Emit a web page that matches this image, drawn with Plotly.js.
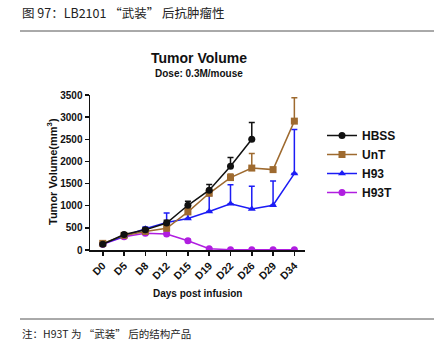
<!DOCTYPE html>
<html><head><meta charset="utf-8">
<script src="https://cdn.plot.ly/plotly-3.0.1.min.js"></script>
<style>html,body{margin:0;padding:0;background:#fff;}#chart{width:439px;height:351px;}</style>
</head><body><div id="chart"></div>
<script>
const days = ["D0","D5","D8","D12","D15","D19","D22","D26","D29","D34"];
const hbss = [130, 350, 455, 610, 1010, 1350, 1890, 2500, null, null];
const hbssErr = [30, 40, 40, 60, 90, 130, 200, 380, 0, 0];
const unt = [150, 330, 420, 490, 860, 1280, 1635, 1850, 1815, 2910];
const untErr = [30, 30, 40, 50, 70, 100, 80, 330, 50, 530];
const h93 = [140, 310, 480, 620, 710, 870, 1045, 925, 1010, 1725];
const h93Err = [30, 30, 40, 215, 190, 360, 430, 515, 550, 995];
const h93t = [130, 300, 380, 360, 210, 30, 5, 3, 3, 3];
const h93tErr = [20, 20, 30, 30, 30, 10, 0, 0, 0, 0];
const zeros = days.map(() => 0);

function tr(name, y, err, color, symbol) {
  return {
    type: 'scatter', mode: 'lines+markers', name: name, x: days, y: y,
    line: {color: color, width: 1.5},
    marker: {color: color, symbol: symbol, size: 7},
    error_y: {type: 'data', symmetric: false, array: err, arrayminus: zeros, color: color, thickness: 1.5, width: 3},
    connectgaps: false
  };
}
const data = [
  tr('H93T', h93t, h93tErr, '#b01ee0', 'circle'),
  tr('H93', h93, h93Err, '#1c1cf5', 'triangle-up'),
  tr('UnT', unt, untErr, '#9e6a2f', 'square'),
  tr('HBSS', hbss, hbssErr, '#111111', 'circle')
];
const X0 = 90, W = 215, Y0 = 250, H = 155;
const px = v => (v - X0) / W, py = v => (Y0 - v) / H;
const bold = {family: 'Liberation Sans, Arial, sans-serif', color: '#111', size: 10, weight: 'bold'};
const boldX = {family: 'Liberation Sans, Arial, sans-serif', color: '#111', size: 10.5, weight: 'bold'};
const layout = {
  width: 439, height: 351,
  margin: {l: 90, r: 134, t: 95, b: 101},
  paper_bgcolor: '#fff', plot_bgcolor: '#fff',
  showlegend: true,
  legend: {x: px(322), y: py(121), xanchor: 'left', yanchor: 'top', traceorder: 'reversed',
    font: {family: 'Liberation Sans, Arial, sans-serif', size: 12, color: '#111', weight: 'bold'},
    itemwidth: 30, tracegroupgap: 0, bgcolor: 'rgba(0,0,0,0)'},
  xaxis: {type: 'category', range: [-0.6, 9.5], showgrid: false, zeroline: false,
    showline: true, linecolor: '#111', linewidth: 1.5, ticks: 'outside', ticklen: 4, tickwidth: 1.5, tickcolor: '#111',
    tickangle: -45, tickfont: boldX, fixedrange: true},
  yaxis: {range: [0, 3500], showgrid: false, zeroline: false, dtick: 500,
    showline: true, linecolor: '#111', linewidth: 1.5, ticks: 'outside', ticklen: 4, tickwidth: 1.5, tickcolor: '#111',
    tickfont: bold, fixedrange: true},
  shapes: [
    {type: 'line', xref: 'paper', yref: 'paper', x0: px(20), x1: px(434), y0: py(31), y1: py(31), line: {color: '#555', width: 1}},
    {type: 'line', xref: 'paper', yref: 'paper', x0: px(20), x1: px(434), y0: py(319), y1: py(319), line: {color: '#555', width: 1}}
  ],
  annotations: [
    {xref: 'paper', yref: 'paper', x: px(20), y: py(12), xanchor: 'left', yanchor: 'middle', showarrow: false,
      text: '图 97：LB2101 “武装” 后抗肿瘤性', font: {family: 'Noto Sans CJK SC, sans-serif', size: 12.5, color: '#222'}},
    {xref: 'paper', yref: 'paper', x: px(20), y: py(333), xanchor: 'left', yanchor: 'middle', showarrow: false,
      text: '注：H93T 为 “武装” 后的结构产品', font: {family: 'Noto Sans CJK SC, sans-serif', size: 10.5, color: '#222'}},
    {xref: 'paper', yref: 'paper', x: px(199), y: py(58), xanchor: 'center', yanchor: 'middle', showarrow: false,
      text: 'Tumor Volume', font: {family: 'Liberation Sans, Arial, sans-serif', size: 14, color: '#111', weight: 'bold'}},
    {xref: 'paper', yref: 'paper', x: px(199), y: py(73), xanchor: 'center', yanchor: 'middle', showarrow: false,
      text: 'Dose: 0.3M/mouse', font: {family: 'Liberation Sans, Arial, sans-serif', size: 10, color: '#111', weight: 'bold'}},
    {xref: 'paper', yref: 'paper', x: px(197), y: py(293), xanchor: 'center', yanchor: 'middle', showarrow: false,
      text: 'Days post infusion', font: {family: 'Liberation Sans, Arial, sans-serif', size: 10, color: '#111', weight: 'bold'}},
    {xref: 'paper', yref: 'paper', x: px(52), y: py(172), xanchor: 'center', yanchor: 'middle', showarrow: false, textangle: -90,
      text: 'Tumor Volume(mm<sup>3</sup>)', font: {family: 'Liberation Sans, Arial, sans-serif', size: 11, color: '#111', weight: 'bold'}}
  ]
};
Plotly.newPlot('chart', data, layout, {displayModeBar: false, staticPlot: true});
</script>
</body></html>
